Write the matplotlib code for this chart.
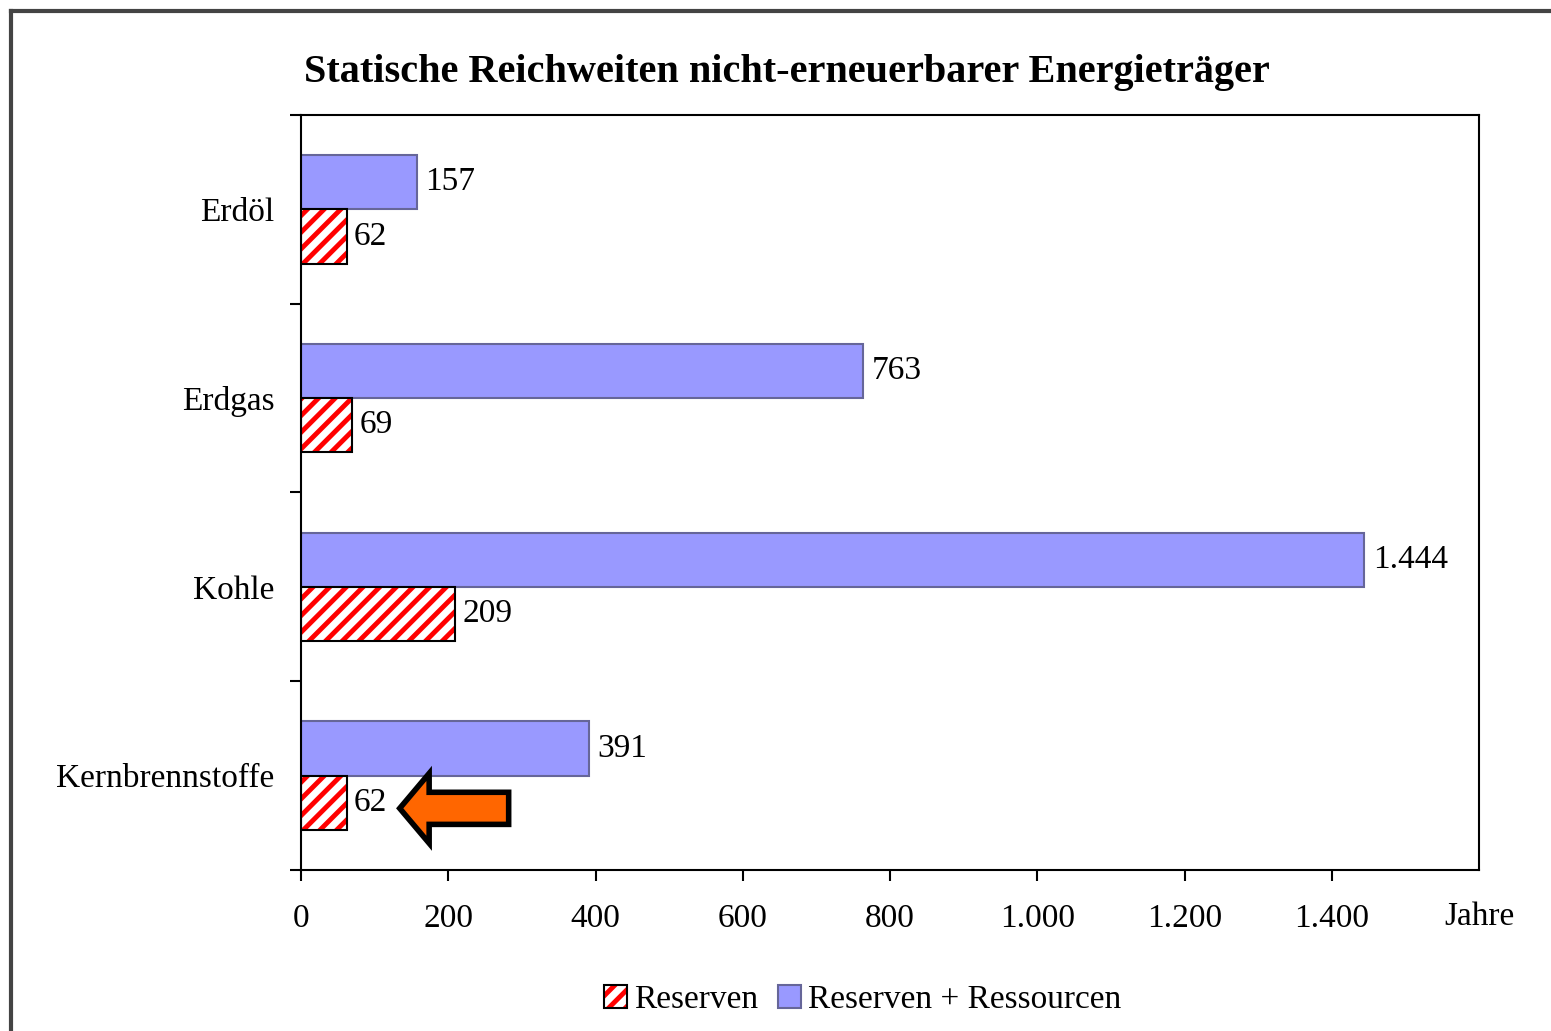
import numpy as np
import matplotlib.pyplot as plt
from matplotlib.patches import FancyArrow, Patch
from matplotlib.lines import Line2D
from matplotlib.legend_handler import HandlerTuple

plt.rcParams['font.family'] = ['Liberation Serif', 'DejaVu Serif']
plt.rcParams['hatch.linewidth'] = 3.5

# --- Data ---
categories = ['Erdöl', 'Erdgas', 'Kohle', 'Kernbrennstoffe']
reserven = [62, 69, 209, 62]
reserven_ressourcen = [157, 763, 1444, 391]
x_ticks = [0, 200, 400, 600, 800, 1000, 1200, 1400]


def de_format(v):
    return f'{v:,}'.replace(',', '.')


fig = plt.figure(figsize=(15.51, 10.31), dpi=100)
ax = fig.add_axes([0.1941, 0.1562, 0.9536 - 0.1941, 0.8885 - 0.1562])

y = np.arange(len(categories))
h = 0.287
fs = 24

# blue bars (upper half of each band)
ax.barh(y - h / 2, reserven_ressourcen, height=h, color='#9999ff',
        edgecolor='#666699', linewidth=1.5, zorder=2)
# red hatched bars (lower half)
ax.barh(y + h / 2, reserven, height=h, color='white', edgecolor='red',
        hatch='//', linewidth=0, zorder=2)
ax.barh(y + h / 2, reserven, height=h, fill=False, edgecolor='black',
        linewidth=1.5, zorder=3)

# value labels
for yi, v in zip(y, reserven_ressourcen):
    ax.text(v + 12, yi - h / 2, de_format(v), va='center', ha='left', fontsize=fs)
for yi, v in zip(y, reserven):
    ax.text(v + 10, yi + h / 2, de_format(v), va='center', ha='left', fontsize=fs)

# orange arrow pointing at Kernbrennstoffe reserves
k = categories.index('Kernbrennstoffe')
arrow = FancyArrow(282, k + h / 2 + 0.03, -148, 0, width=0.17, head_width=0.37,
                   head_length=40, length_includes_head=True,
                   facecolor='#ff6600', edgecolor='black', linewidth=4, zorder=5)
ax.add_patch(arrow)

ax.set_xlim(0, 1600)
ax.set_ylim(len(categories) - 0.5, -0.5)

ax.set_xticks(x_ticks)
ax.set_xticklabels([de_format(t) for t in x_ticks], fontsize=fs)
ax.tick_params(axis='x', direction='out', length=8, width=1.5, pad=16)

ax.set_yticks(y)
ax.set_yticklabels(categories, fontsize=fs)
ax.tick_params(axis='y', which='major', length=0, pad=19)
ax.set_yticks(np.arange(-0.5, len(categories)), minor=True)
ax.tick_params(axis='y', which='minor', direction='out', length=8, width=1.5)

for s in ax.spines.values():
    s.set_linewidth(1.5)

ax.text(1.0, -0.062, 'Jahre', transform=ax.transAxes,
        ha='center', va='center', fontsize=fs)

fig.text(0.5075, 0.930, 'Statische Reichweiten nicht-erneuerbarer Energieträger',
         ha='center', va='center', fontsize=29, fontweight='bold')

red_handle = (Patch(facecolor='white', edgecolor='red', hatch='//', linewidth=0),
              Patch(fill=False, edgecolor='black', linewidth=1.5))
blue_handle = Patch(facecolor='#9999ff', edgecolor='#666699', linewidth=1.5)
fig.legend([red_handle, blue_handle], ['Reserven', 'Reserven + Ressourcen'],
           loc='center', bbox_to_anchor=(0.556, 0.030), ncol=2, frameon=False,
           fontsize=fs, handlelength=0.7, handleheight=0.7, handletextpad=0.2,
           columnspacing=0.6, handler_map={tuple: HandlerTuple(ndivide=1, pad=0)})

# outer frame
fig.add_artist(Line2D([0.0071, 1.0], [0.9893, 0.9893], color='#444444', linewidth=3))
fig.add_artist(Line2D([0.0071, 0.0071], [0.0, 0.9893], color='#444444', linewidth=3))

plt.savefig('out.png', dpi=100)
